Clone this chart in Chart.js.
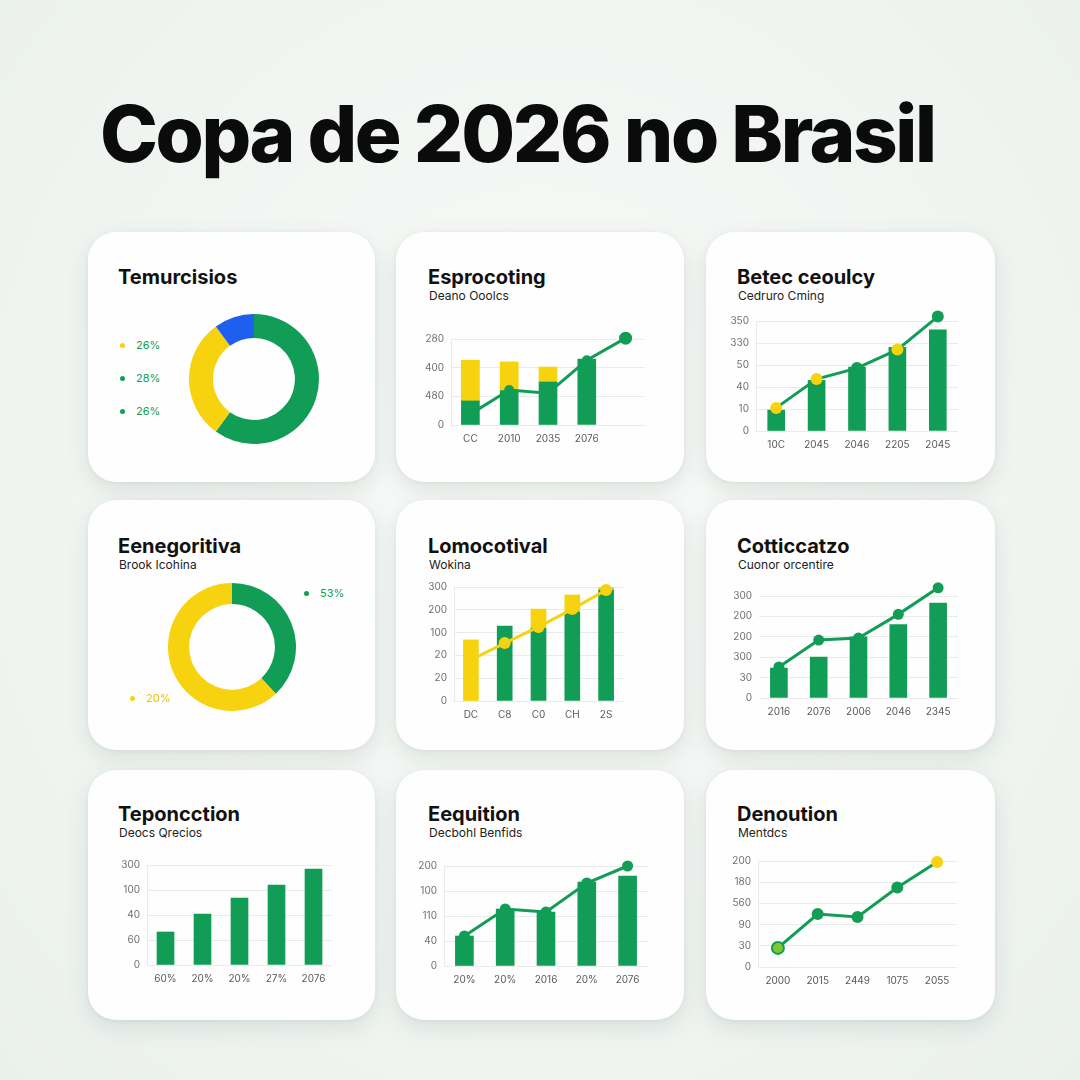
<!DOCTYPE html>
<html><head><meta charset="utf-8">
<script src="https://cdn.jsdelivr.net/npm/chart.js@4.4.0/dist/chart.umd.min.js"></script>
<style>
html,body{margin:0;padding:0;}
body{width:1080px;height:1080px;position:relative;overflow:hidden;
  background:radial-gradient(ellipse at 50% 45%, #f8faf8 0%, #f1f5f2 60%, #eaf0ec 100%);
  font-family:Inter,'Open Sans',sans-serif;}
#mainTitle{position:absolute;left:100px;top:88px;font-weight:800;font-size:78px;line-height:92px;color:#0b0b0b;white-space:nowrap;}
.card{position:absolute;background:#fefefe;border-radius:28px;
  box-shadow:0 8px 22px rgba(80,105,95,0.14),0 1px 4px rgba(0,0,0,0.05);}
.ttl{position:absolute;font-weight:700;font-size:20px;line-height:22px;color:#111;white-space:nowrap;letter-spacing:0;}
.sub{position:absolute;font-size:12px;line-height:14px;color:#222;white-space:nowrap;}
.lg{position:absolute;font-size:11px;line-height:14px;white-space:nowrap;}
.lg span{display:inline-block;width:5px;height:5px;border-radius:50%;margin-right:11px;vertical-align:middle;position:relative;top:-1px;}
canvas{position:absolute;}
</style>
</head>
<body>
<div id="mainTitle"></div>
<script>
// ---------------- DATA ----------------
const pageTitle = 'Copa de 2026 no Brasil';
const cardTitles = ['Temurcisios','Esprocoting','Betec ceoulcy','Eenegoritiva','Lomocotival','Cotticcatzo','Teponcction','Eequition','Denoution'];
const cardSubtitles = ['','Deano Ooolcs','Cedruro Cming','Brook Icohina','Wokina','Cuonor orcentire','Deocs Qrecios','Decbohl Benfids','Mentdcs'];

// card 1 doughnut
const c1Segments = [60, 30, 10];
const c1LegendLabels = ['26%','28%','26%'];
// card 4 doughnut
const c4Segments = [38, 62];
const c4LegendLabels = ['53%','20%'];

// card 2
const c2Categories = ['CC','2010','2035','2076',''];
const c2YTicks = ['0','480','400','280'];
const c2Green = [0.84, 1.2, 1.5, 2.3, null];
const c2Yellow = [1.42, 1.0, 0.52, null, null];
const c2Line = [0.38, 1.22, 1.11, 2.26, 3.03];

// card 3
const c3Categories = ['10C','2045','2046','2205','2045'];
const c3YTicks = ['0','10','40','50','330','350'];
const c3Bars = [0.95, 2.3, 2.9, 3.8, 4.6];
const c3Line = [1.05, 2.36, 2.86, 3.7, 5.2];

// card 5
const c5Categories = ['DC','C8','C0','CH','2S'];
const c5YTicks = ['0','20','20','100','200','300'];
const c5Green = [null, 3.29, 3.2, 3.9, 4.87];
const c5Yellow = [2.68, null, 0.83, 0.75, 0.33];
const c5Line = [1.8, 2.54, 3.25, 4.03, 4.87];

// card 6
const c6Categories = ['2016','2076','2006','2046','2345'];
const c6YTicks = ['0','30','300','200','200','300'];
const c6Bars = [1.47, 2.0, 3.0, 3.6, 4.65];
const c6Line = [1.52, 2.84, 2.94, 4.1, 5.4];

// card 7
const c7Categories = ['60%','20%','20%','27%','2076'];
const c7YTicks = ['0','60','40','100','300'];
const c7Bars = [1.32, 2.04, 2.68, 3.2, 3.84];

// card 8
const c8Categories = ['20%','20%','2016','20%','2076'];
const c8YTicks = ['0','40','110','100','200'];
const c8Bars = [1.2, 2.28, 2.16, 3.36, 3.6];
const c8Line = [1.2, 2.28, 2.16, 3.32, 4.0];

// card 9
const c9Categories = ['2000','2015','2449','1075','2055'];
const c9YTicks = ['0','30','90','560','180','200'];
const c9Line = [0.9, 2.5, 2.36, 3.75, 4.95];

// ---------------- STYLE / LAYOUT ----------------
const GREEN = '#129d57', YELLOW = '#f6d30e', BLUE = '#1f5ff0', LIME = '#7fc631';
const colLeft = [88, 396, 706], colWidth = [287, 288, 289];
const rowTop = [232, 500, 770], cardH = 250;
const titleX = [118, 428, 737];
const titleCY = [277, 546, 814];

Chart.defaults.font.family = "Inter, 'Open Sans', sans-serif";
Chart.defaults.font.size = 10;
Chart.defaults.color = '#6d6d6d';

// main title fit
const mt = document.getElementById('mainTitle');
mt.textContent = pageTitle;
(function(){
  const w = mt.getBoundingClientRect().width;
  const target = 837;
  const ls = (target - w) / (pageTitle.length - 1);
  mt.style.letterSpacing = ls + 'px';
})();

const cards = [];
for (let r = 0; r < 3; r++) for (let c = 0; c < 3; c++) {
  const i = r * 3 + c;
  const d = document.createElement('div');
  d.className = 'card';
  d.style.left = colLeft[c] + 'px'; d.style.top = rowTop[r] + 'px';
  d.style.width = colWidth[c] + 'px'; d.style.height = cardH + 'px';
  document.body.appendChild(d);
  cards.push({left: colLeft[c], top: rowTop[r], right: colLeft[c] + colWidth[c], bottom: rowTop[r] + cardH});
  const t = document.createElement('div');
  t.className = 'ttl'; t.textContent = cardTitles[i];
  t.style.left = titleX[c] + 'px'; t.style.top = (titleCY[r] - 11) + 'px';
  document.body.appendChild(t);
  if (cardSubtitles[i]) {
    const s = document.createElement('div');
    s.className = 'sub'; s.textContent = cardSubtitles[i];
    s.style.left = (titleX[c] + 1) + 'px'; s.style.top = (titleCY[r] + 19 - 7) + 'px';
    document.body.appendChild(s);
  }
}

function makeCanvas(l, t, w, h) {
  const cv = document.createElement('canvas');
  cv.width = w; cv.height = h;
  cv.style.left = l + 'px'; cv.style.top = t + 'px';
  cv.style.width = w + 'px'; cv.style.height = h + 'px';
  document.body.appendChild(cv);
  return cv;
}

function legendItem(x, y, text, dotColor, textColor) {
  const e = document.createElement('div');
  e.className = 'lg';
  e.style.left = x + 'px'; e.style.top = (y - 7) + 'px'; e.style.color = textColor;
  const sp = document.createElement('span'); sp.style.background = dotColor;
  e.appendChild(sp); e.appendChild(document.createTextNode(text));
  document.body.appendChild(e);
}

function doughnut(cx, cy, r, cutout, data, colors) {
  const cv = makeCanvas(cx - r, cy - r, 2 * r, 2 * r);
  new Chart(cv, {
    type: 'doughnut',
    data: {datasets: [{data: data, backgroundColor: colors, borderWidth: 0}]},
    options: {responsive: false, animation: false, events: [], cutout: cutout,
      plugins: {legend: {display: false}, tooltip: {enabled: false}}, layout: {padding: 0}}
  });
}

// plot = page coords of chart area {l, t, r, b}; headroom = extra units above top tick
function barLine(card, plot, cats, yTicks, datasets, stacked, headroom) {
  headroom = headroom || 0;
  const W = card.right - card.left, H = card.bottom - card.top;
  const cv = makeCanvas(card.left, card.top, W, H);
  const yW = plot.l - card.left, xH = card.bottom - plot.b;
  const nT = yTicks.length - 1;
  const step = (plot.b - plot.t) / nT;
  const isTick = v => Math.abs(v - Math.round(v)) < 1e-6 && v <= nT;
  new Chart(cv, {
    type: 'bar',
    data: {labels: cats, datasets: datasets},
    options: {
      responsive: false, animation: false, events: [],
      layout: {padding: {left: 0, top: plot.t - card.top - headroom * step, right: card.right - plot.r, bottom: 0}},
      plugins: {legend: {display: false}, tooltip: {enabled: false}},
      scales: {
        x: {stacked: !!stacked, offset: true,
          grid: {display: false, drawTicks: false},
          border: {display: false},
          ticks: {padding: 8, color: '#5a5a5a', maxRotation: 0, autoSkip: false},
          afterFit: s => { s.height = xH; }
        },
        y: {stacked: !!stacked, min: 0, max: nT + headroom,
          grid: {color: c => isTick(c.tick.value) ? '#e9ebea' : 'rgba(0,0,0,0)', lineWidth: 1, drawTicks: false},
          border: {display: headroom === 0, color: '#e9ebea'},
          ticks: {stepSize: 1, padding: 7, color: '#707070', callback: v => isTick(v) ? yTicks[Math.round(v)] : ''},
          afterFit: s => { s.width = yW; }
        }
      }
    }
  });
}

function lineDs(values, color, pointColors, radius, extra) {
  return Object.assign({type: 'line', data: values, borderColor: color, borderWidth: 3,
    pointBackgroundColor: pointColors || color, pointBorderWidth: 0, pointRadius: radius || 5.5,
    tension: 0, clip: 12, order: 0, stack: 'line'}, extra || {});
}
function barDs(values, color, thick) {
  return {type: 'bar', data: values, backgroundColor: color, barThickness: thick, order: 1, stack: 'bars', borderWidth: 0};
}

// ---- card 1
doughnut(254, 379, 65, '63%', c1Segments, [GREEN, YELLOW, BLUE]);
const c1Dots = [YELLOW, GREEN, GREEN];
const c1Ys = [345, 378, 411];
c1LegendLabels.forEach((t, i) => legendItem(120, c1Ys[i], t, c1Dots[i], GREEN));

// ---- card 4
doughnut(232, 647, 64, '67%', c4Segments, [GREEN, YELLOW]);
legendItem(304, 593, c4LegendLabels[0], GREEN, GREEN);
legendItem(130, 698, c4LegendLabels[1], YELLOW, '#e9c500');

// ---- card 2
barLine(cards[1], {l: 451, t: 339, r: 645, b: 425}, c2Categories, c2YTicks, [
  lineDs(c2Line, GREEN, GREEN, [5, 5, 5, 5, 6.5]),
  barDs(c2Green, GREEN, 18),
  barDs(c2Yellow, YELLOW, 18)
], true);

// ---- card 3
barLine(cards[2], {l: 756, t: 321, r: 958, b: 431}, c3Categories, c3YTicks, [
  lineDs(c3Line, GREEN, [YELLOW, YELLOW, GREEN, YELLOW, GREEN], 6),
  barDs(c3Bars, GREEN, 17)
], false);

// ---- card 5
barLine(cards[4], {l: 454, t: 587, r: 623, b: 701}, c5Categories, c5YTicks, [
  lineDs(c5Line, YELLOW, YELLOW, 6),
  barDs(c5Green, GREEN, 15),
  barDs(c5Yellow, YELLOW, 15)
], true);

// ---- card 6
barLine(cards[5], {l: 759, t: 596, r: 958, b: 698}, c6Categories, c6YTicks, [
  lineDs(c6Line, GREEN, GREEN, 5.5),
  barDs(c6Bars, GREEN, 17)
], false, 0.6);

// ---- card 7
barLine(cards[6], {l: 147, t: 865, r: 332, b: 965}, c7Categories, c7YTicks, [
  barDs(c7Bars, GREEN, 17)
], false);

// ---- card 8
barLine(cards[7], {l: 444, t: 866, r: 648, b: 966}, c8Categories, c8YTicks, [
  lineDs(c8Line, GREEN, GREEN, 5.5),
  barDs(c8Bars, GREEN, 18)
], false);

// ---- card 9
barLine(cards[8], {l: 758, t: 861, r: 957, b: 967}, c9Categories, c9YTicks, [
  lineDs(c9Line, GREEN, [LIME, GREEN, GREEN, GREEN, YELLOW], 6,
    {pointBorderColor: [GREEN, GREEN, GREEN, GREEN, YELLOW], pointBorderWidth: [2, 0, 0, 0, 0]})
], false);
</script>
</body></html>
